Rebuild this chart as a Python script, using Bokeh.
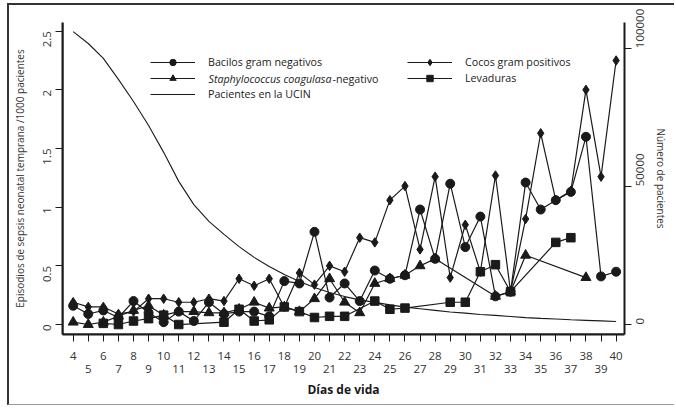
import math
from bokeh.plotting import figure
from bokeh.models import (Range1d, LinearAxis, FixedTicker, NumeralTickFormatter,
                          Legend, LegendItem, Label, Span)
from bokeh.embed import file_html
from bokeh.resources import INLINE

days = list(range(4, 41))
bacilos = [0.16, 0.09, 0.12, 0.06, 0.20, 0.10, 0.02, 0.11, 0.03, 0.19, 0.09, 0.11, 0.11,
           0.07, 0.37, 0.35, 0.79, 0.23, 0.35, 0.20, 0.46, 0.39, 0.42, 0.98, 0.56, 1.20,
           0.66, 0.92, 0.24, 0.28, 1.21, 0.98, 1.06, 1.13, 1.60, 0.41, 0.45]
cocos = [0.19, 0.15, 0.15, 0.09, 0.11, 0.22, 0.22, 0.19, 0.19, 0.22, 0.20, 0.39, 0.33,
         0.39, 0.15, 0.44, 0.34, 0.50, 0.45, 0.74, 0.70, 1.06, 1.18, 0.64, 1.26, 0.40,
         0.85, 0.45, 1.27, 0.28, 0.90, 1.63, 1.06, 1.14, 2.00, 1.26, 2.25]
staph_days = list(range(4, 29)) + [32, 33, 34, 38]
staph = [0.02, 0.00, 0.02, 0.07, 0.12, 0.16, 0.08, 0.11, 0.11, 0.10, 0.10, 0.13, 0.19,
         0.14, 0.15, 0.11, 0.22, 0.39, 0.19, 0.10, 0.35, 0.39, 0.42, 0.50, 0.56,
         0.24, 0.28, 0.59, 0.40]
lev_days = [6, 7, 8, 9, 10, 11, 14, 15, 16, 17, 18, 19, 20, 21, 22, 24, 25, 26, 29, 30,
            31, 32, 33, 36, 37]
levaduras = [0.01, 0.00, 0.03, 0.05, 0.08, 0.00, 0.02, 0.13, 0.03, 0.04, 0.15, 0.11,
             0.06, 0.07, 0.07, 0.20, 0.13, 0.14, 0.19, 0.19, 0.45, 0.51, 0.28, 0.70, 0.74]
pacientes = [106000, 101700, 96300, 88700, 80700, 72000, 62300, 51800, 43400, 37300,
             32600, 28200, 24300, 21000, 18100, 15600, 13400, 11600, 10100, 8900, 8000,
             7100, 6300, 5700, 5100, 4500, 4100, 3600, 3300, 2900, 2500, 2200, 2000,
             1700, 1500, 1300, 1100]
left_ticks = [0, 0.5, 1, 1.5, 2, 2.5]
right_ticks = [0, 50000, 100000]
even_days = [d for d in days if d % 2 == 0]
odd_days = [d for d in days if d % 2 == 1]

FONT = "Open Sans"
INK = "#1a1a1a"

# canvas sits at (9, 5) on the page: 7px margin + 2px border, 3px margin + 2px border
W, H = 667, 402
FL, FR, FT, FB = 52, 52, 17, 73   # frame margins inside the canvas

x_range = Range1d(3.292, 40.556)
y_range = Range1d(-0.085, 2.574)

p = figure(width=W, height=H, x_range=x_range, y_range=y_range,
           x_axis_type=None, y_axis_type=None,
           output_backend="svg", toolbar_location=None,
           min_border_left=FL, min_border_right=FR, min_border_top=FT,
           min_border_bottom=FB)
p.outline_line_color = None
p.background_fill_color = "white"
p.border_fill_color = "white"
p.styles = {"margin-left": "7px", "margin-top": "3px",
            "border-top": "2px solid #333333", "border-left": "2px solid #333333",
            "border-bottom": "1px solid #9a9a9a"}
p.extra_y_ranges = {"pac": Range1d(-3620, 109300)}


def style_axis(ax):
    ax.axis_line_color = INK
    ax.axis_line_width = 2
    ax.major_tick_line_color = INK
    ax.major_tick_line_width = 1
    ax.major_tick_out = 7
    ax.major_tick_in = 0
    ax.minor_tick_out = 0
    ax.minor_tick_in = 0
    ax.major_label_text_font = FONT
    ax.major_label_text_font_size = "11.5px"
    ax.major_label_text_color = "#333333"
    ax.axis_label_text_font = FONT
    ax.axis_label_text_font_size = "10px"
    ax.axis_label_text_font_style = "normal"
    ax.axis_label_text_color = "#333333"


yl = LinearAxis(ticker=FixedTicker(ticks=left_ticks),
                formatter=NumeralTickFormatter(format="0.[0]"),
                axis_label="Episodios de sepsis neonatal temprana /1000 pacientes")
style_axis(yl)
yl.major_label_orientation = math.pi / 2
yl.major_label_standoff = 8
yl.axis_label_standoff = 10
p.add_layout(yl, "left")

yr = LinearAxis(y_range_name="pac", ticker=FixedTicker(ticks=right_ticks),
                formatter=NumeralTickFormatter(format="0"),
                axis_label="Número de pacientes")
style_axis(yr)
yr.major_label_orientation = math.pi / 2
yr.major_label_standoff = 9
yr.axis_label_standoff = 2
p.add_layout(yr, "right")

xb1 = LinearAxis(ticker=FixedTicker(ticks=even_days, minor_ticks=odd_days),
                 formatter=NumeralTickFormatter(format="0"))
style_axis(xb1)
xb1.minor_tick_out = 7
xb1.minor_tick_line_color = INK
xb1.major_label_standoff = 10
p.add_layout(xb1, "below")

xb2 = LinearAxis(ticker=FixedTicker(ticks=odd_days, minor_ticks=[]),
                 formatter=NumeralTickFormatter(format="0"),
                 axis_label="Días de vida")
style_axis(xb2)
xb2.axis_line_color = None
xb2.major_tick_line_color = None
xb2.major_tick_out = 0
xb2.major_label_standoff = 2
xb2.axis_label_standoff = 5
xb2.axis_label_text_font_style = "bold"
xb2.axis_label_text_font_size = "12px"
xb2.axis_label_text_color = INK
p.add_layout(xb2, "below")

# rule lines along the left and bottom edges of the plotting area
p.add_layout(Span(location=x_range.start, dimension="height",
                  line_color=INK, line_width=2))
p.add_layout(Span(location=y_range.start, dimension="width",
                  line_color=INK, line_width=2))

lp = p.line(days, pacientes, y_range_name="pac", line_color=INK, line_width=1.1)

lb = p.line(days, bacilos, line_color=INK, line_width=1.2)
sb = p.scatter(days, bacilos, marker="circle", size=9, fill_color=INK, line_color=INK)

lc = p.line(days, cocos, line_color=INK, line_width=1.2)
sc = p.scatter(days, cocos, marker="diamond", size=9.5, fill_color=INK, line_color=INK)

ls = p.line(staph_days, staph, line_color=INK, line_width=1.2)
ss = p.scatter(staph_days, staph, marker="triangle", size=10, fill_color=INK, line_color=INK)

lv = p.line(lev_days, levaduras, line_color=INK, line_width=1.2)
sv = p.scatter(lev_days, levaduras, marker="square", size=8.5, fill_color=INK, line_color=INK)


def style_legend(lg):
    lg.border_line_color = None
    lg.background_fill_alpha = 0
    lg.padding = 0
    lg.margin = 0
    lg.spacing = 0
    lg.glyph_width = 45
    lg.glyph_height = 16
    lg.label_height = 16
    lg.label_standoff = 13
    lg.label_text_font = FONT
    lg.label_text_font_size = "10.7px"
    lg.label_text_color = "#222222"


leg1 = Legend(items=[LegendItem(label="Bacilos gram negativos", renderers=[lb, sb]),
                     LegendItem(label=" ", renderers=[ls, ss]),
                     LegendItem(label="Pacientes en la UCIN", renderers=[lp])],
              location=(88, 232))
style_legend(leg1)
p.add_layout(leg1)

leg2 = Legend(items=[LegendItem(label="Cocos gram positivos", renderers=[lc, sc]),
                     LegendItem(label="Levaduras", renderers=[lv, sv])],
              location=(345, 248))
style_legend(leg2)
p.add_layout(leg2)

lab1 = Label(x=146, y=256, x_units="screen", y_units="screen",
             text="Staphylococcus coagulasa", text_font=FONT, text_font_size="10.7px",
             text_font_style="italic", text_color="#222222", text_baseline="middle")
lab2 = Label(x=270, y=256, x_units="screen", y_units="screen",
             text="-negativo", text_font=FONT, text_font_size="10.7px",
             text_color="#222222", text_baseline="middle")
p.add_layout(lab1)
p.add_layout(lab2)

open("out.html", "w").write(file_html(p, INLINE))
